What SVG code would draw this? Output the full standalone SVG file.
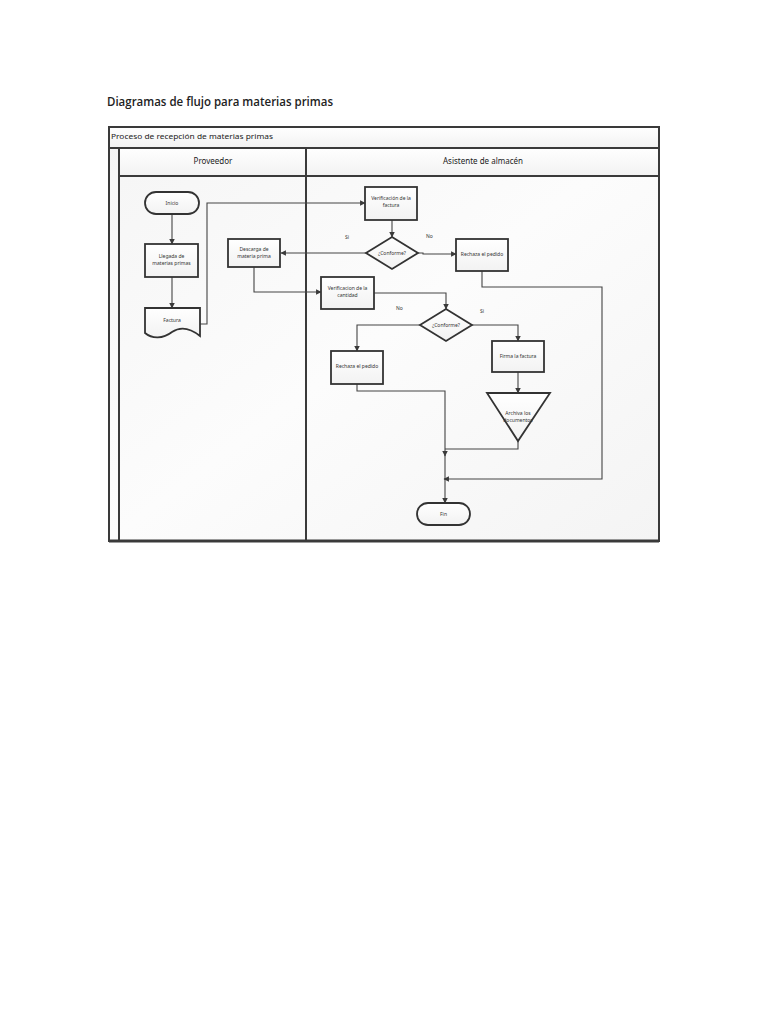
<svg xmlns="http://www.w3.org/2000/svg" width="768" height="1024" viewBox="0 0 768 1024">
<defs>
<linearGradient id="lane" x1="0" y1="0" x2="1" y2="1">
<stop offset="0" stop-color="#f5f5f5"/><stop offset="0.5" stop-color="#fcfcfc"/><stop offset="1" stop-color="#f4f4f4"/>
</linearGradient>
<linearGradient id="hdr" x1="0" y1="0" x2="0" y2="1">
<stop offset="0" stop-color="#ffffff"/><stop offset="1" stop-color="#f2f2f2"/>
</linearGradient>
<linearGradient id="box" x1="0" y1="0" x2="0" y2="1">
<stop offset="0" stop-color="#ffffff"/><stop offset="1" stop-color="#f2f2f2"/>
</linearGradient>
<marker id="ar" viewBox="0 0 10 10" refX="9" refY="5" markerWidth="5" markerHeight="5" orient="auto">
<path d="M0,0 L10,5 L0,10 Z" fill="#3a3a3a"/>
</marker>
</defs>
<style>
.frame{fill:none;stroke:#3a3a3a;stroke-width:2}
.shape{fill:url(#box);stroke:#333;stroke-width:1.8}
.con{fill:none;stroke:#444;stroke-width:1.1}
.t{font-family:"Noto Sans","Open Sans",sans-serif;font-size:5px;fill:#333;text-anchor:middle}
.lbl{font-family:"Noto Sans","Open Sans",sans-serif;font-size:5px;fill:#333}
.h{font-family:"Noto Sans","Open Sans",sans-serif;font-size:8px;fill:#222;text-anchor:middle}
</style>
<rect width="768" height="1024" fill="#ffffff"/>
<text x="107" y="106" font-family="'Open Sans','Noto Sans',sans-serif" font-size="13" font-weight="600" fill="#222" textLength="226" lengthAdjust="spacingAndGlyphs">Diagramas de flujo para materias primas</text>

<g id="pool">
<rect x="109" y="127" width="550" height="414" fill="url(#lane)"/>
<rect x="109" y="127" width="550" height="21" fill="url(#hdr)"/>
<rect x="119" y="148" width="540" height="28" fill="url(#hdr)"/>
<rect x="109" y="127" width="550" height="414" class="frame"/>
<line x1="109" y1="148" x2="659" y2="148" class="frame"/>
<line x1="119" y1="176" x2="659" y2="176" class="frame"/>
<line x1="119" y1="148" x2="119" y2="541" class="frame"/>
<line x1="306" y1="148" x2="306" y2="541" class="frame"/>
<line x1="109" y1="541" x2="659" y2="541" stroke="#3a3a3a" stroke-width="3"/>
<text x="111" y="139" font-family="'Noto Sans','Open Sans',sans-serif" font-size="7.5" fill="#222" textLength="162" lengthAdjust="spacingAndGlyphs">Proceso de recepción de materias primas</text>
<text x="213" y="164" class="h">Proveedor</text>
<text x="483" y="164" class="h">Asistente de almacén</text>
</g>

<g id="connectors">
<line x1="172" y1="214" x2="172" y2="244" class="con" marker-end="url(#ar)"/>
<line x1="172" y1="277" x2="172" y2="308" class="con" marker-end="url(#ar)"/>
<polyline points="200,324 207,324 207,203 365,203" class="con" marker-end="url(#ar)"/>
<line x1="392" y1="220" x2="392" y2="237" class="con" marker-end="url(#ar)"/>
<line x1="367" y1="253" x2="281" y2="253" class="con" marker-end="url(#ar)"/>
<polyline points="418,253 423,253 423,254 456,254" class="con" marker-end="url(#ar)"/>
<polyline points="254,267 254,292 321,292" class="con" marker-end="url(#ar)"/>
<polyline points="374,293 446,293 446,309" class="con" marker-end="url(#ar)"/>
<polyline points="421,325 357,325 357,351" class="con" marker-end="url(#ar)"/>
<polyline points="472,325 518,325 518,341" class="con" marker-end="url(#ar)"/>
<line x1="518" y1="372" x2="518" y2="393" class="con" marker-end="url(#ar)"/>
<polyline points="357,384 357,391 445,391 445,456" class="con" marker-end="url(#ar)"/>
<polyline points="518,441 518,449 445,449" class="con"/>
<line x1="445" y1="455" x2="445" y2="503" class="con" marker-end="url(#ar)"/>
<polyline points="482,271 482,287 602,287 602,479 444,479" class="con" marker-end="url(#ar)"/>
<text x="345" y="239" class="lbl">Si</text>
<text x="426" y="238" class="lbl">No</text>
<text x="396" y="310" class="lbl">No</text>
<text x="480" y="313" class="lbl">Si</text>
</g>

<g id="inicio">
<rect x="145" y="192" width="54" height="22" rx="11" class="shape"/>
<text x="172" y="205" class="t">Inicio</text>
</g>
<g id="llegada">
<rect x="145" y="244" width="53" height="33" class="shape"/>
<text x="171.5" y="258" class="t">Llegada de</text>
<text x="171.5" y="265" class="t">materias primas</text>
</g>
<g id="factura">
<path d="M145,308 H200 V336 C190,328 181,326 172,332 C163,339 152,339 145,333 Z" class="shape"/>
<text x="172" y="322" class="t">Factura</text>
</g>
<g id="descarga">
<rect x="228" y="239" width="52" height="28" class="shape"/>
<text x="254" y="251" class="t">Descarga de</text>
<text x="254" y="258" class="t">materia prima</text>
</g>
<g id="verif-factura">
<rect x="365" y="187" width="52" height="33" class="shape"/>
<text x="391" y="200" class="t">Verificación de la</text>
<text x="391" y="207" class="t">factura</text>
</g>
<g id="conforme1">
<polygon points="392,237 418,253 392,269 366,253" class="shape"/>
<text x="392" y="255" class="t">¿Conforme?</text>
</g>
<g id="rechaza1">
<rect x="456" y="239" width="52" height="32" class="shape"/>
<text x="482" y="256" class="t">Rechaza el pedido</text>
</g>
<g id="verif-cantidad">
<rect x="321" y="277" width="53" height="32" class="shape"/>
<text x="347.5" y="290" class="t">Verificacion de la</text>
<text x="347.5" y="297" class="t">cantidad</text>
</g>
<g id="conforme2">
<polygon points="446,309 472,325 446,341 420,325" class="shape"/>
<text x="446" y="327" class="t">¿Conforme?</text>
</g>
<g id="rechaza2">
<rect x="331" y="351" width="52" height="33" class="shape"/>
<text x="357" y="368" class="t">Rechaza el pedido</text>
</g>
<g id="firma">
<rect x="492" y="341" width="52" height="31" class="shape"/>
<text x="518" y="358" class="t">Firma la factura</text>
</g>
<g id="archiva">
<polygon points="487,393 550,393 518,441" class="shape"/>
<text x="518" y="415" class="t">Archiva los</text>
<text x="518" y="422" class="t">documentos</text>
</g>
<g id="fin">
<rect x="417" y="503" width="53" height="22" rx="11" class="shape"/>
<text x="443.5" y="516" class="t">Fin</text>
</g>
</svg>
